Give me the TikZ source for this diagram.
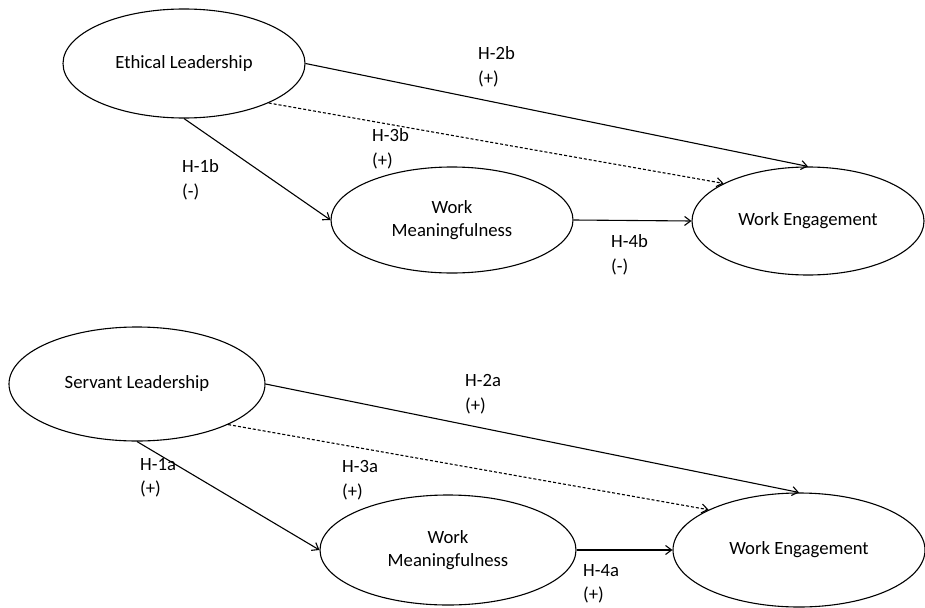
\documentclass[tikz,border=0pt]{standalone}
\usepackage{fontspec}
\setmainfont{Carlito}
\usetikzlibrary{shapes.geometric,arrows.meta}
\begin{document}
\begin{tikzpicture}[x=1pt,y=-1pt,
  oval/.style={ellipse,draw,line width=1.1pt,inner sep=0pt,align=center,font=\fontsize{18.7}{23.5}\selectfont},
  lbl/.style={anchor=west,inner sep=0pt,align=left,font=\fontsize{18.7}{24.5}\selectfont},
  conn/.style={line width=1.1pt,-{Straight Barb[length=6pt,width=9pt]}},
  dconn/.style={conn,dash pattern=on 3pt off 2pt}]
\useasboundingbox (0,0) rectangle (925,607);
% top model
\node[oval,minimum width=242pt,minimum height=109pt] (el) at (184,63.5) {Ethical Leadership};
\node[oval,minimum width=242pt,minimum height=106pt] (wmb) at (452,220) {Work\\Meaningfulness};
\node[oval,minimum width=232pt,minimum height=108pt] (web) at (808,221) {Work Engagement};
\draw[conn] (el.east) -- (web.north);
\draw[dconn] (el.-25) -- (web.156);
\draw[conn] (el.south) -- (wmb.west);
\draw[conn] (wmb.east) -- (web.west);
\node[lbl] (h2b) at (478,67) {H-2b\\(+)};
\node[lbl] (h3b) at (372,149) {H-3b\\(+)};
\node[lbl] (h1b) at (182,180) {H-1b\\(-)};
\node[lbl] (h4b) at (611,255) {H-4b\\(-)};
% bottom model
\node[oval,minimum width=256pt,minimum height=114pt] (sl) at (137,384) {Servant Leadership};
\node[oval,minimum width=256pt,minimum height=110pt] (wma) at (448,550) {Work\\Meaningfulness};
\node[oval,minimum width=252pt,minimum height=114pt] (wea) at (799,550) {Work Engagement};
\draw[conn] (sl.east) -- (wea.north);
\draw[dconn] (sl.-24) -- (wea.156);
\draw[conn] (sl.south) -- (wma.west);
\draw[conn] (wma.east) -- (wea.west);
\node[lbl] (h2a) at (465,394) {H-2a\\(+)};
\node[lbl] (h3a) at (342,480) {H-3a\\(+)};
\node[lbl] (h1a) at (140,478) {H-1a\\(+)};
\node[lbl] (h4a) at (583,584) {H-4a\\(+)};
\end{tikzpicture}
\end{document}
